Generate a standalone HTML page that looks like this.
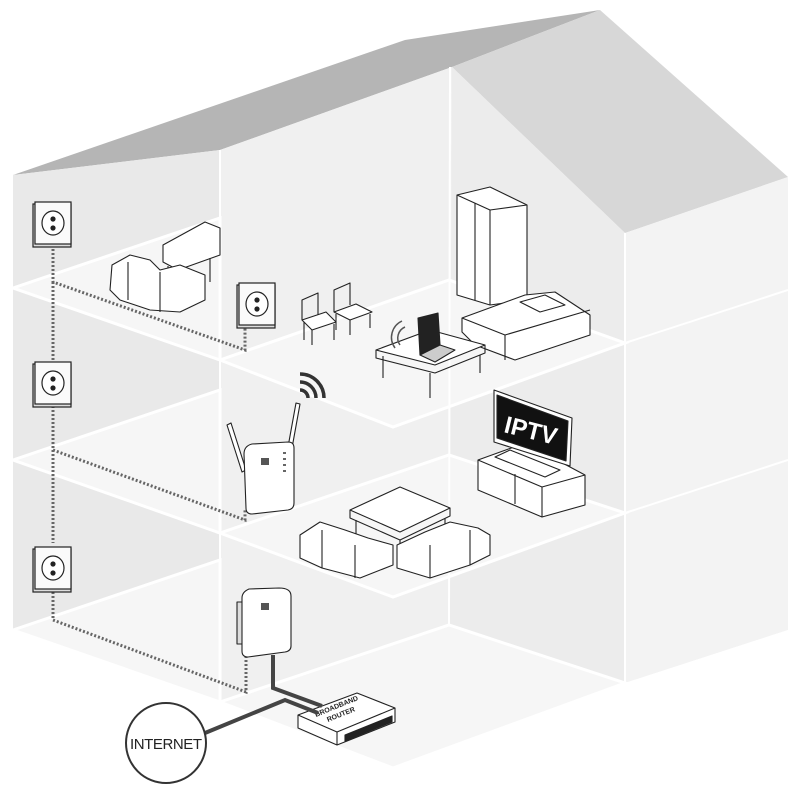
<!DOCTYPE html>
<html><head><meta charset="utf-8"><style>
html,body{margin:0;padding:0;background:#fff;}
svg{display:block}
text{font-family:"Liberation Sans",sans-serif}
</style></head><body>
<svg width="788" height="800" viewBox="0 0 788 800" xmlns="http://www.w3.org/2000/svg">
<polygon points="13,175 405,40 600,10 452,67 220,150" fill="#b5b5b5"/>
<polygon points="452,67 600,10 788,177 625,233" fill="#d7d7d7"/>
<polygon points="13,175 220,150 220,702 13,630" fill="#e9e9e9"/>
<polygon points="220,150 452,67 449,625 220,702" fill="#f0f0f0"/>
<polygon points="452,67 625,233 625,683 449,625" fill="#ececec"/>
<polygon points="625,233 788,177 788,630 625,683" fill="#f3f3f3"/>
<g fill="#f6f6f6" stroke="#ffffff" stroke-width="3">
<polygon points="13,630 220,560 220,702"/>
<polygon points="220,702 449,625 625,683 393,768"/>
<polygon points="13,460 220,390 220,533"/>
<polygon points="220,533 449,455 625,513 393,597"/>
<polygon points="13,288 220,218 220,360"/>
<polygon points="220,360 449,280 625,343 393,427"/>
</g>
<g stroke="#ffffff" stroke-width="2" fill="none">
<line x1="220" y1="150" x2="220" y2="702"/>
<line x1="450" y1="67" x2="449" y2="625"/>
<line x1="625" y1="233" x2="625" y2="683"/>
<polyline points="13,288 220,360"/><polyline points="13,460 220,533"/><polyline points="13,630 220,702"/>
<polyline points="625,343 788,290"/><polyline points="625,513 788,460"/>
</g>
<polygon points="220,702 393,768 625,683 788,630 788,640 393,800 13,640 13,630" fill="#ffffff"/>
<g stroke="#666" stroke-width="3" fill="none" stroke-dasharray="2,2">
<polyline points="53,245 53,282 245,350 245,328"/>
<polyline points="53,282 53,362"/>
<polyline points="53,406 53,450 245,520 245,510"/>
<polyline points="53,450 53,543"/>
<polyline points="53,592 53,620 246,692 246,655"/>
</g>
<g stroke="#222" stroke-width="1.2">
<g transform="translate(33,200)"><rect x="0" y="4" width="38" height="43" fill="#ddd"/><rect x="2" y="2" width="36" height="42" fill="#fafafa"/><ellipse cx="20" cy="23" rx="11" ry="12" fill="#fff"/><circle cx="20" cy="19" r="2" fill="#222"/><circle cx="20" cy="28" r="2" fill="#222"/></g>
<g transform="translate(33,360)"><rect x="0" y="4" width="38" height="43" fill="#ddd"/><rect x="2" y="2" width="36" height="42" fill="#fafafa"/><ellipse cx="20" cy="23" rx="11" ry="12" fill="#fff"/><circle cx="20" cy="19" r="2" fill="#222"/><circle cx="20" cy="28" r="2" fill="#222"/></g>
<g transform="translate(33,545)"><rect x="0" y="4" width="38" height="43" fill="#ddd"/><rect x="2" y="2" width="36" height="42" fill="#fafafa"/><ellipse cx="20" cy="23" rx="11" ry="12" fill="#fff"/><circle cx="20" cy="19" r="2" fill="#222"/><circle cx="20" cy="28" r="2" fill="#222"/></g>
<g transform="translate(237,281)"><rect x="0" y="4" width="38" height="43" fill="#ddd"/><rect x="2" y="2" width="36" height="42" fill="#fafafa"/><ellipse cx="20" cy="23" rx="11" ry="12" fill="#fff"/><circle cx="20" cy="19" r="2" fill="#222"/><circle cx="20" cy="28" r="2" fill="#222"/></g>
</g>
<g fill="#fff" stroke="#222" stroke-width="1.1" stroke-linejoin="round">
<polygon points="163,245 205,222 220,228 220,255 178,270 163,262"/>
<line x1="168" y1="266" x2="168" y2="285"/><line x1="210" y1="258" x2="210" y2="282"/>
<polygon points="112,265 130,255 150,260 160,270 180,265 205,275 205,300 180,312 150,310 120,300 110,290"/>
<line x1="128" y1="262" x2="128" y2="300"/><line x1="160" y1="272" x2="160" y2="312"/>
<polygon points="457,195 490,187 527,205 527,300 490,305 457,295"/>
<polyline points="457,195 490,210 527,205" fill="none"/><line x1="490" y1="210" x2="490" y2="305"/><line x1="475" y1="203" x2="475" y2="300"/>
<polygon points="462,318 525,295 555,292 590,315 590,335 515,360 475,345 462,332"/>
<polyline points="462,318 505,335 590,310" fill="none"/><line x1="505" y1="335" x2="505" y2="360"/>
<polygon points="520,302 545,295 565,305 540,312"/>
<polygon points="302,320 326,312 336,322 312,330"/><polyline points="302,320 302,300 318,293 318,315" fill="none"/>
<line x1="304" y1="322" x2="304" y2="340"/><line x1="312" y1="330" x2="312" y2="345"/><line x1="334" y1="324" x2="334" y2="340"/>
<polygon points="334,312 356,304 372,312 350,320"/><polyline points="334,312 334,290 350,283 350,305" fill="none"/>
<line x1="336" y1="314" x2="336" y2="330"/><line x1="350" y1="320" x2="350" y2="335"/><line x1="370" y1="314" x2="370" y2="328"/>
<polygon points="376,350 430,330 485,345 435,365"/>
<polyline points="376,350 376,358 435,373 485,353 485,345" fill="none"/>
<line x1="383" y1="356" x2="383" y2="378"/><line x1="430" y1="373" x2="430" y2="398"/><line x1="480" y1="355" x2="480" y2="373"/>
<polygon points="418,318 438,313 440,345 420,355" fill="#222"/>
<polygon points="420,355 440,345 455,350 435,362" fill="#ccc"/>
<polygon points="227,425 231,423 246,470 242,472" fill="#fff"/>
<polygon points="296,403 300,404 292,448 288,447" fill="#fff"/>
<path d="M244,454 q0,-8 8,-10 l36,-2 q6,0 6,6 v55 q0,6 -6,7 l-36,4 q-6,0 -6,-6 z"/>
<rect x="261" y="458" width="8" height="7" fill="#555" stroke="none"/>
<g fill="#666" stroke="none"><rect x="283" y="452" width="3" height="2"/><rect x="283" y="458" width="3" height="2"/><rect x="283" y="464" width="3" height="2"/><rect x="283" y="470" width="3" height="2"/></g>
<rect x="237" y="602" width="6" height="42" fill="#ddd"/>
<path d="M242,598 q0,-6 7,-9 l30,-1 q12,0 12,8 v50 q0,5 -6,6 l-37,5 q-6,0 -6,-6 z"/>
<rect x="261" y="603" width="8" height="7" fill="#555" stroke="none"/>
<polygon points="478,460 525,443 585,475 585,505 542,517 478,490"/>
<polyline points="478,460 542,487 585,475" fill="none"/><line x1="542" y1="487" x2="542" y2="517"/><line x1="515" y1="474" x2="515" y2="504"/>
<polygon points="495,457 510,450 560,470 545,477"/>
<polygon points="494,390 572,418 570,466 494,442" fill="#fff"/>
<polygon points="497,395 568,421 566,461 497,438" fill="#111"/>
<polygon points="350,510 400,487 450,508 400,532"/>
<polyline points="350,510 350,518 400,540 450,516 450,508" fill="none"/>
<line x1="356" y1="520" x2="356" y2="540"/><line x1="400" y1="540" x2="400" y2="560"/><line x1="445" y1="518" x2="445" y2="538"/>
<polygon points="300,535 320,522 345,530 368,538 393,545 393,565 360,578 322,568 300,558"/>
<line x1="322" y1="530" x2="322" y2="568"/><line x1="355" y1="545" x2="355" y2="578"/>
<polygon points="397,545 425,532 450,522 478,528 490,535 490,555 470,565 430,578 397,568"/>
<line x1="430" y1="545" x2="430" y2="578"/><line x1="470" y1="530" x2="470" y2="565"/>
<polygon points="298,715 357,693 395,708 395,722 337,745 298,728"/>
<polyline points="298,715 337,732 395,708" fill="none"/><line x1="337" y1="732" x2="337" y2="745"/>
<polygon points="345,735 392,716 392,722 345,741" fill="#222"/>
</g>
<text transform="translate(503,432) rotate(14)" font-size="24" font-weight="bold" fill="#fff">IPTV</text>
<text transform="translate(316,717) rotate(-22)" font-size="7" font-weight="bold" fill="#222">BROADBAND</text>
<text transform="translate(328,722) rotate(-22)" font-size="7" font-weight="bold" fill="#222">ROUTER</text>
<g fill="none" stroke="#333" stroke-width="3.5">
<path d="M300,390 a8,8 0 0 1 8,8"/><path d="M300,382 a16,16 0 0 1 16,16"/><path d="M300,374 a24,24 0 0 1 24,24"/>
</g>
<g fill="none" stroke="#555" stroke-width="1.5">
<path d="M400,345 a12,12 0 0 1 5,-18"/><path d="M395,348 a18,18 0 0 1 7,-27"/>
</g>
<g fill="none" stroke="#444" stroke-width="4">
<polyline points="273,655 273,688 322,706"/>
<polyline points="205,733 285,700 318,713"/>
</g>
<ellipse cx="166" cy="743" rx="40" ry="40" fill="#fff" stroke="#333" stroke-width="2"/>
<text x="166" y="749" font-size="15" text-anchor="middle" fill="#222" textLength="72">INTERNET</text>
</svg>
</body></html>
